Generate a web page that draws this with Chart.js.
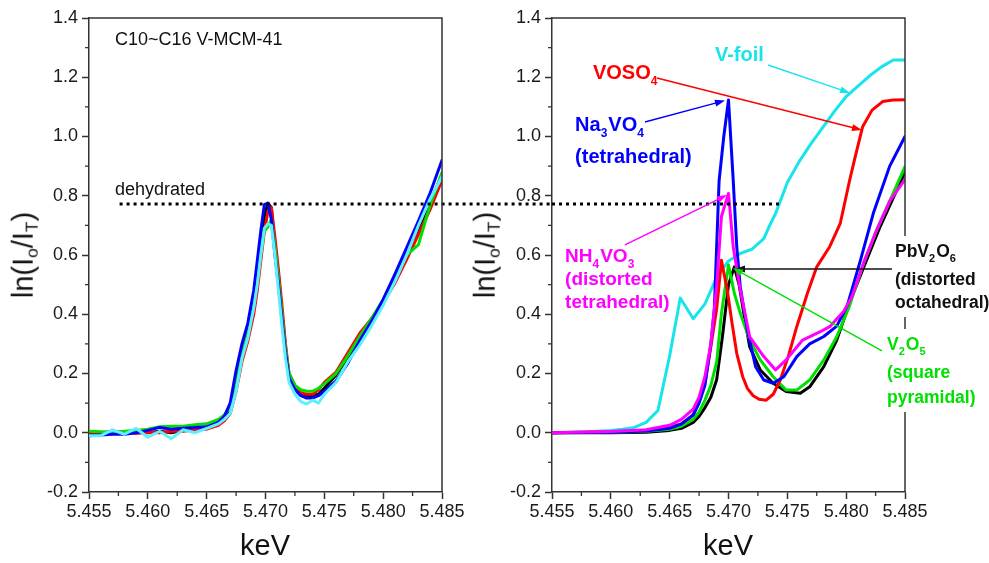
<!DOCTYPE html>
<html><head><meta charset="utf-8">
<script src="https://cdn.jsdelivr.net/npm/chart.js@4.4.1/dist/chart.umd.min.js"></script>
<style>
html,body{margin:0;padding:0;background:#fff;}
#wrap{position:relative;width:989px;height:563px;overflow:hidden;background:#fff;}
canvas{position:absolute;left:0;top:0;}
.ttl{position:absolute;font-family:'Liberation Sans',Arial,sans-serif;font-size:29px;color:#111;white-space:nowrap;transform:translate(-50%,-50%);line-height:1;}
.rot{transform:translate(-50%,-50%) rotate(-90deg);}
.ttl sub{font-size:0.6em;vertical-align:-0.3em;}
</style></head>
<body><div id="wrap">
<canvas id="c1" width="989" height="563"></canvas>
<canvas id="c2" width="989" height="563"></canvas>
<div class="ttl" style="left:265px;top:545px">keV</div>
<div class="ttl" style="left:728px;top:545px">keV</div>
<div class="ttl rot" style="left:25px;top:255px">ln(I<sub>o</sub>/I<sub>T</sub>)</div>
<div class="ttl rot" style="left:487px;top:255px">ln(I<sub>o</sub>/I<sub>T</sub>)</div>
</div>
<script>
// ---------- data: left panel (C10~C16 V-MCM-41, dehydrated) ----------
const keVLeft = [5.455,5.456,5.457,5.458,5.459,5.460,5.461,5.462,5.463,5.464,5.465,
  5.466,5.4665,5.467,5.4675,5.468,5.4685,5.469,
  5.4693,5.4696,5.4699,5.4702,5.4705,5.4708,5.4711,5.4714,5.4717,5.472,
  5.4725,5.473,5.4735,5.474,5.4745,5.475,
  5.476,5.477,5.478,5.479,5.480,5.481,5.482,5.483,5.484,5.485];
const leftBlack = [0.0,-0.002,0.003,0.0,0.0,0.0,0.005,0.0,0.008,0.012,0.018,
  0.035,0.05,0.075,0.165,0.27,0.34,0.44,
  0.53,0.62,0.73,0.775,0.76,0.63,0.53,0.40,0.28,0.19,
  0.155,0.133,0.125,0.125,0.13,0.15,
  0.195,0.255,0.32,0.38,0.445,0.52,0.6,0.69,0.78,0.87];
const leftRed = [0.002,0.0,0.005,0.003,-0.002,0.002,0.0,0.005,0.005,0.01,0.012,
  0.025,0.04,0.065,0.14,0.24,0.31,0.40,
  0.48,0.58,0.68,0.745,0.76,0.66,0.55,0.43,0.30,0.2,
  0.16,0.135,0.13,0.13,0.145,0.17,
  0.205,0.27,0.335,0.385,0.44,0.505,0.585,0.67,0.755,0.853];
const leftGreen = [0.005,0.003,0.0,0.005,0.008,0.012,0.02,0.022,0.022,0.027,0.03,
  0.045,0.06,0.085,0.17,0.27,0.335,0.43,
  0.51,0.6,0.68,0.695,0.72,0.63,0.52,0.40,0.285,0.2,
  0.16,0.145,0.14,0.14,0.15,0.165,
  0.2,0.26,0.325,0.385,0.45,0.525,0.6,0.635,0.77,0.878];
const leftBlue = [-0.01,-0.008,-0.005,-0.005,0.0,0.008,0.018,0.012,0.015,0.018,0.02,
  0.035,0.055,0.1,0.21,0.3,0.37,0.48,
  0.58,0.68,0.77,0.775,0.72,0.6,0.5,0.38,0.27,0.185,
  0.145,0.125,0.117,0.117,0.125,0.14,
  0.175,0.235,0.31,0.375,0.45,0.535,0.625,0.715,0.81,0.92];
const leftCyan = [-0.01,-0.01,0.01,-0.005,0.015,-0.015,0.005,-0.02,0.01,0.0,0.015,
  0.03,0.045,0.065,0.14,0.25,0.32,0.42,
  0.5,0.6,0.69,0.705,0.7,0.6,0.48,0.36,0.25,0.17,
  0.13,0.105,0.097,0.11,0.1,0.13,
  0.17,0.24,0.295,0.36,0.43,0.51,0.6,0.7,0.79,0.864];
const dehydratedLevel = 0.772;
const dehydratedLeftRange = [5.4576, 5.4942];
const dehydratedRightRange = [5.455, 5.4745];

// ---------- data: right panel (reference compounds) ----------
const vfoilKeV = [5.455,5.458,5.460,5.461,5.462,5.463,5.464,5.465,5.4659,5.467,5.468,5.469,5.470,5.471,5.472,5.473,5.4735,5.474,5.475,5.476,5.477,5.478,5.479,5.480,5.481,5.482,5.483,5.484,5.485];
const vfoilVal = [0.0,0.003,0.008,0.012,0.018,0.035,0.075,0.26,0.455,0.385,0.435,0.525,0.58,0.605,0.62,0.655,0.70,0.74,0.845,0.915,0.975,1.03,1.085,1.135,1.17,1.205,1.235,1.258,1.258];
const vosoKeV = [5.455,5.460,5.463,5.465,5.466,5.467,5.4675,5.468,5.4685,5.469,5.4694,5.4699,5.4703,5.4707,5.4712,5.4716,5.4721,5.4726,5.4732,5.4738,5.4744,5.4751,5.4758,5.4767,5.4775,5.4786,5.4795,5.4803,5.4807,5.4814,5.4822,5.4831,5.484,5.485];
const vosoVal = [0.0,0.003,0.008,0.018,0.03,0.06,0.11,0.17,0.29,0.42,0.582,0.48,0.37,0.268,0.19,0.15,0.125,0.113,0.11,0.13,0.178,0.26,0.358,0.47,0.56,0.628,0.707,0.853,0.92,1.033,1.089,1.118,1.123,1.124];
const na3vo4KeV = [5.455,5.460,5.463,5.465,5.466,5.467,5.4675,5.468,5.4685,5.4688,5.4692,5.4696,5.470,5.4704,5.4707,5.471,5.4716,5.4723,5.473,5.4738,5.4747,5.4758,5.4769,5.4781,5.4792,5.4801,5.4812,5.4823,5.4837,5.485];
const na3vo4Val = [0.0,0.002,0.006,0.015,0.03,0.06,0.1,0.16,0.3,0.42,0.85,1.0,1.123,0.853,0.628,0.493,0.347,0.223,0.178,0.167,0.189,0.257,0.3,0.325,0.36,0.43,0.58,0.74,0.9,1.0];
const nh4vo3KeV = [5.455,5.460,5.463,5.465,5.466,5.467,5.4675,5.468,5.4685,5.469,5.4694,5.470,5.4704,5.471,5.4718,5.473,5.474,5.4749,5.4763,5.4778,5.4786,5.4798,5.4805,5.4815,5.4826,5.4837,5.485];
const nh4vo3Val = [0.0,0.004,0.01,0.025,0.045,0.08,0.12,0.19,0.3,0.5,0.73,0.808,0.628,0.482,0.324,0.257,0.212,0.246,0.313,0.341,0.358,0.41,0.46,0.575,0.685,0.782,0.855];
const v2o5KeV = [5.455,5.460,5.463,5.465,5.466,5.467,5.4675,5.468,5.4685,5.469,5.4694,5.470,5.4705,5.471,5.4718,5.4727,5.4738,5.4749,5.4758,5.4769,5.4781,5.4792,5.4803,5.4815,5.4826,5.4837,5.485];
const v2o5Val = [0.0,0.002,0.005,0.012,0.022,0.045,0.07,0.11,0.16,0.24,0.403,0.566,0.47,0.403,0.313,0.246,0.189,0.144,0.144,0.178,0.246,0.324,0.43,0.575,0.685,0.782,0.898];
const pbv2o6KeV = [5.455,5.460,5.463,5.465,5.466,5.467,5.4675,5.468,5.4685,5.469,5.4695,5.470,5.4705,5.4709,5.4713,5.4718,5.4727,5.4738,5.4749,5.4761,5.4769,5.4781,5.4792,5.4803,5.4815,5.4829,5.485];
const pbv2o6Val = [0.0,0.0,0.002,0.008,0.015,0.035,0.055,0.085,0.12,0.18,0.33,0.5,0.56,0.5,0.403,0.29,0.212,0.167,0.139,0.133,0.155,0.223,0.313,0.44,0.56,0.697,0.88];

// ---------- axis ticks ----------
const keVMin = 5.455, keVMax = 5.485, keVStep = 0.005;
const lnMin = -0.2, lnMax = 1.4, lnStep = 0.2;

// ---------- annotation texts ----------
const leftNotes = [
  {lines:[[['C10~C16 V-MCM-41',0]]], x:5.45721, ys:[1.3257], color:'#111', size:18, bold:false},
  {lines:[[['dehydrated',0]]], x:5.45721, ys:[0.8194], color:'#111', size:18, bold:false}
];
const rightNotes = [
  {lines:[[['V-foil',0]]], x:5.46885, ys:[1.2751], color:'#18e4ec', size:20, bold:true},
  {lines:[[['VOSO',0],['4',1]]], x:5.45848, ys:[1.2143], color:'#ff0000', size:20, bold:true},
  {lines:[[['Na',0],['3',1],['VO',0],['4',1]], [['(tetrahedral)',0]]], x:5.45696, ys:[1.0388,0.9308], color:'#0000ff', size:20, bold:true},
  {lines:[[['NH',0],['4',1],['VO',0],['3',1]], [['(distorted',0]], [['tetrahedral)',0]]], x:5.45611, ys:[0.5932,0.5156,0.4380], color:'#ff00ff', size:19, bold:true},
  {lines:[[['PbV',0],['2',1],['O',0],['6',1]], [['(distorted',0]], [['octahedral)',0]]], x:5.48415, ys:[0.6101,0.5156,0.4380], color:'#111', size:17.5, bold:true, box:true},
  {lines:[[['V',0],['2',1],['O',0],['5',1]], [['(square',0]], [['pyramidal)',0]]], x:5.48347, ys:[0.2962,0.2017,0.1173], color:'#00e000', size:17.5, bold:true, box:true}
];
const rightArrows = [
  {from:[5.47336,1.2414], to:[5.48033,1.1468], color:'#18e4ec'},
  {from:[5.46392,1.1975], to:[5.48134,1.0219], color:'#ff0000'},
  {from:[5.46290,1.0490], to:[5.46970,1.1215], color:'#0000ff'},
  {from:[5.46120,0.6338], to:[5.46987,0.8025], color:'#ff00ff'},
  {from:[5.48389,0.5528], to:[5.47055,0.5528], color:'#111'},
  {from:[5.48304,0.2760], to:[5.47038,0.5561], color:'#00e000'}
];

const FONT = "'Liberation Sans', Arial, Helvetica, sans-serif";
const pts = (xs, ys) => xs.map((x, i) => ({x, y: ys[i]}));

function line(label, data, color, width) {
  return {label, data, borderColor: color, backgroundColor: color, borderWidth: width || 3,
    pointRadius: 0, tension: 0, fill: false, borderJoinStyle: 'round', borderCapStyle: 'round'};
}
function dotted(range) {
  return {label:'dehydrated', data: pts(range, [dehydratedLevel, dehydratedLevel]), borderColor:'#000',
    borderWidth:3, borderDash:[3,4], borderCapStyle:'butt', pointRadius:0, fill:false, clip:false};
}

function drawRich(ctx, parts, x, y, size, bold, color, measure) {
  let cx = x;
  for (const [t, sub] of parts) {
    const fs = sub ? Math.round(size * 0.62) : size;
    ctx.font = (bold ? 'bold ' : '') + fs + 'px ' + FONT;
    const w = ctx.measureText(t).width;
    if (!measure) {
      ctx.fillStyle = color;
      ctx.textBaseline = 'middle';
      ctx.textAlign = 'left';
      ctx.fillText(t, cx, sub ? y + size * 0.42 : y);
    }
    cx += w + (sub ? 1 : 0);
  }
  return cx - x;
}

function makePlugin(notes, arrows) {
  return {
    id: 'frameNotes',
    afterDraw(chart) {
      const {ctx, chartArea: a, scales: {x, y}} = chart;
      ctx.save();
      // top and right frame
      ctx.strokeStyle = '#333'; ctx.lineWidth = 1.5;
      ctx.beginPath(); ctx.moveTo(a.left, a.top); ctx.lineTo(a.right, a.top); ctx.lineTo(a.right, a.bottom); ctx.stroke();
      // minor ticks (half-way between major ticks)
      ctx.lineWidth = 1.3;
      const xt = x.ticks.map(t => t.value), yt = y.ticks.map(t => t.value);
      for (let i = 0; i < xt.length - 1; i++) {
        const px = x.getPixelForValue((xt[i] + xt[i + 1]) / 2);
        ctx.beginPath(); ctx.moveTo(px, a.bottom); ctx.lineTo(px, a.bottom + 4); ctx.stroke();
      }
      for (let i = 0; i < yt.length - 1; i++) {
        const py = y.getPixelForValue((yt[i] + yt[i + 1]) / 2);
        ctx.beginPath(); ctx.moveTo(a.left - 4, py); ctx.lineTo(a.left, py); ctx.stroke();
      }
      // arrows
      for (const ar of arrows) {
        const x0 = x.getPixelForValue(ar.from[0]), y0 = y.getPixelForValue(ar.from[1]);
        const x1 = x.getPixelForValue(ar.to[0]), y1 = y.getPixelForValue(ar.to[1]);
        const ang = Math.atan2(y1 - y0, x1 - x0);
        ctx.strokeStyle = ar.color; ctx.fillStyle = ar.color; ctx.lineWidth = 1.4;
        ctx.beginPath(); ctx.moveTo(x0, y0); ctx.lineTo(x1 - 8 * Math.cos(ang), y1 - 8 * Math.sin(ang)); ctx.stroke();
        ctx.beginPath();
        ctx.moveTo(x1, y1);
        ctx.lineTo(x1 - 10 * Math.cos(ang) + 3.5 * Math.sin(ang), y1 - 10 * Math.sin(ang) - 3.5 * Math.cos(ang));
        ctx.lineTo(x1 - 10 * Math.cos(ang) - 3.5 * Math.sin(ang), y1 - 10 * Math.sin(ang) + 3.5 * Math.cos(ang));
        ctx.closePath(); ctx.fill();
      }
      // texts
      for (const n of notes) {
        const px = x.getPixelForValue(n.x);
        const pys = n.ys.map(v => y.getPixelForValue(v));
        if (n.box) {
          let w = 0;
          n.lines.forEach(l => { w = Math.max(w, drawRich(ctx, l, px, 0, n.size, n.bold, n.color, true)); });
          ctx.fillStyle = '#fff';
          ctx.fillRect(px - 3, pys[0] - 16, w + 6, pys[pys.length - 1] - pys[0] + 30);
        }
        n.lines.forEach((l, i) => drawRich(ctx, l, px, pys[i], n.size, n.bold, n.color, false));
      }
      ctx.restore();
    }
  };
}

function scaleOpts(yWidth) {
  const grid = {drawOnChartArea:false, drawTicks:true, tickLength:7, tickColor:'#333', tickWidth:1.5};
  const border = {display:true, color:'#333', width:1.5};
  const tickFont = {family: FONT, size: 18};
  return {
    x: {type:'linear', min:keVMin, max:keVMax, grid, border,
        ticks:{stepSize:keVStep, autoSkip:false, maxRotation:0, font:tickFont, color:'#1a1a1a', padding:2,
               callback: v => Number(v).toFixed(3)},
        afterFit: s => { s.height = 71; }},
    y: {type:'linear', min:lnMin, max:lnMax, grid, border,
        ticks:{stepSize:lnStep, autoSkip:false, font:tickFont, color:'#1a1a1a', padding:4,
               callback: v => (Math.abs(v) < 1e-9 ? 0 : Number(v)).toFixed(1)},
        afterFit: s => { s.width = yWidth; }}
  };
}

function build(id, datasets, padding, yWidth, notes, arrows) {
  return new Chart(document.getElementById(id), {
    type: 'line',
    data: {datasets},
    options: {
      responsive:false, animation:false, events:[],
      layout:{padding},
      plugins:{legend:{display:false}, tooltip:{enabled:false}, title:{display:false}},
      scales: scaleOpts(yWidth)
    },
    plugins: [makePlugin(notes, arrows)]
  });
}

// left chart (datasets listed top-most first)
build('c1', [
  dotted(dehydratedLeftRange),
  line('cyan', pts(keVLeft, leftCyan), '#5ff0ff'),
  line('blue', pts(keVLeft, leftBlue), '#0000ff'),
  line('green', pts(keVLeft, leftGreen), '#00e000'),
  line('red', pts(keVLeft, leftRed), '#ff0000'),
  line('black', pts(keVLeft, leftBlack), '#000000')
], {left:0, right:547, top:18, bottom:0}, 89, leftNotes, []);

// right chart
build('c2', [
  dotted(dehydratedRightRange),
  line('NH4VO3', pts(nh4vo3KeV, nh4vo3Val), '#ff00ff'),
  line('Na3VO4', pts(na3vo4KeV, na3vo4Val), '#0000ff'),
  line('VOSO4', pts(vosoKeV, vosoVal), '#ff0000'),
  line('V2O5', pts(v2o5KeV, v2o5Val), '#00e000'),
  line('PbV2O6', pts(pbv2o6KeV, pbv2o6Val), '#000000'),
  line('V-foil', pts(vfoilKeV, vfoilVal), '#18e4ec')
], {left:472, right:84, top:18, bottom:0}, 80, rightNotes, rightArrows);
</script>
</body></html>
